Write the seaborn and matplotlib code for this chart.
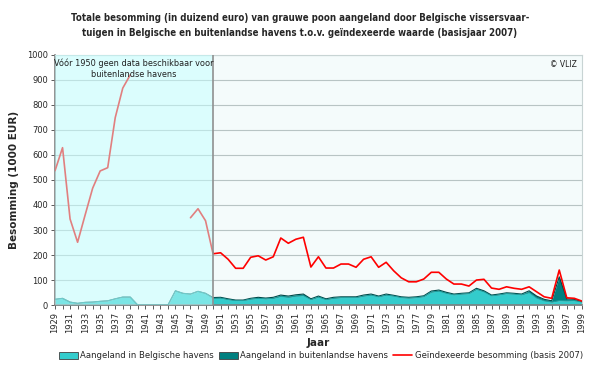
import numpy as np
import pandas as pd
import matplotlib
matplotlib.use("Agg")
import matplotlib.pyplot as plt
from matplotlib.patches import Patch, Rectangle
from matplotlib.lines import Line2D
from matplotlib.ticker import MultipleLocator
import seaborn as sns

sns.set_theme(style="white")
plt.rcParams['font.family'] = ['DejaVu Sans']

years = list(range(1929, 2000))

# landed in Belgian harbours (1000 EUR)
belgian = [23, 27, 12, 7, 11, 12, 15, 17, 25, 32, 32,
           0, 0, 0, 0, 0, 57, 47, 44, 55, 47,
           27, 28, 22, 18, 18, 24, 27, 25, 27, 35, 31, 36, 38, 22, 32, 22, 27, 30, 30, 30,
           36, 40, 33, 40, 36, 30, 28, 30, 34, 52, 56, 47, 41, 44, 46, 63, 53, 37, 41, 46,
           44, 41, 50, 28, 17, 12, 18, 17, 18, 12]
# landed in foreign harbours (no data before 1950)
foreign = [0] * 21 + [3, 3, 3, 2, 2, 3, 4, 3, 4, 5, 5, 5, 6, 3, 4, 3, 4, 3, 3, 3,
                      4, 4, 3, 4, 3, 3, 3, 3, 3, 4, 4, 4, 3, 3, 3, 4, 4, 3, 3, 3,
                      3, 3, 7, 8, 6, 5, 95, 8, 5, 2]
# indexed total value (base 2007)
indexed = [537, 629, 344, 251, 360, 467, 536, 549, 749, 867, 920,
           np.nan, np.nan, np.nan, np.nan, np.nan, np.nan, np.nan, 349, 385, 337,
           205, 209, 183, 147, 147, 191, 197, 180, 193, 268, 247, 263, 271, 152, 193, 148,
           148, 164, 164, 151, 183, 193, 151, 171, 137, 109, 93, 93, 104, 131, 131, 104,
           84, 84, 76, 100, 103, 68, 63, 73, 67, 63, 73, 53, 33, 27, 140, 29, 27, 16]

df = pd.DataFrame({"jaar": years, "belg": belgian, "buit": foreign, "index": indexed})
df["totaal"] = df["belg"] + df["buit"]
df["seg"] = df["index"].isna().cumsum()
line_df = df.dropna(subset=["index"])

fig = plt.figure(figsize=(6, 3.68), dpi=100)
ax = fig.add_axes([0.0917, 0.171, 0.878, 0.680])
ax.set_facecolor("#f4fbfb")

c_belg = "#33cccc"
c_buit = "#008080"

ax.fill_between(df["jaar"], 0, df["belg"], color=c_belg, lw=0, zorder=2)
ax.fill_between(df["jaar"], df["belg"], df["totaal"], color=c_buit, lw=0, zorder=2)
ax.plot(df["jaar"], df["totaal"], color="#004848", lw=0.8, zorder=3)
ax.plot(df["jaar"], df["belg"], color="#20a0a0", lw=0.6, zorder=3)

sns.lineplot(data=line_df, x="jaar", y="index", units="seg", estimator=None,
             color="#ff0000", lw=1.2, ax=ax, zorder=4, legend=False)

# pre-1950 shaded region
ax.add_patch(Rectangle((1929, 0), 21, 1000, facecolor="#c4ffff", alpha=0.5,
                       edgecolor="none", zorder=5))
ax.plot([1950, 1950], [0, 1000], color="#909090", lw=1.2, zorder=6)
ax.text(1939.5, 985, "Vóór 1950 geen data beschikbaar voor\nbuitenlandse havens",
        ha="center", va="top", fontsize=5.9, color="#202020", zorder=7,
        linespacing=1.3)
ax.text(1998.3, 980, "© VLIZ", ha="right", va="top", fontsize=5.5,
        color="#202020", zorder=7)

ax.set_xlim(1929, 1999)
ax.set_ylim(0, 1000)
ax.yaxis.set_major_locator(MultipleLocator(100))
ax.grid(axis="y", color="#b8c4c4", lw=0.8, zorder=1)
ax.set_axisbelow(True)

ax.set_xticks(range(1929, 2000, 2))
ax.set_xticks(range(1929, 2000), minor=True)
ax.tick_params(axis="x", which="both", bottom=True, length=3, width=0.6,
               color="#404040", labelsize=6, rotation=90, pad=2)
ax.tick_params(axis="y", left=True, length=3, width=0.6, color="#404040",
               labelsize=6, pad=2)

for side in ["top", "right"]:
    ax.spines[side].set_color("#c8d4d4")
    ax.spines[side].set_linewidth(0.8)
for side in ["left", "bottom"]:
    ax.spines[side].set_color("#808080")
    ax.spines[side].set_linewidth(1.2)

ax.set_xlabel("Jaar", fontsize=7.5, fontweight="bold")
ax.xaxis.set_label_coords(0.5, -0.13)
ax.set_ylabel("Besomming (1000 EUR)", fontsize=7.5, fontweight="bold", labelpad=6)

fig.suptitle("Totale besomming (in duizend euro) van grauwe poon aangeland door Belgische vissersvaar-\n"
             "tuigen in Belgische en buitenlandse havens t.o.v. geïndexeerde waarde (basisjaar 2007)",
             x=0.5, y=0.965, fontsize=6.9, fontweight="bold", linespacing=1.6,
             family=["Liberation Sans Narrow", "DejaVu Sans"], fontstretch="condensed")

handles = [Patch(facecolor=c_belg, edgecolor="#404040", lw=0.6),
           Patch(facecolor=c_buit, edgecolor="#404040", lw=0.6),
           Line2D([0], [0], color="#ff0000", lw=1.2)]
labels = ["Aangeland in Belgische havens", "Aangeland in buitenlandse havens",
          "Geïndexeerde besomming (basis 2007)"]
fig.legend(handles, labels, loc="lower center", bbox_to_anchor=(0.535, 0.0),
           ncol=3, frameon=False, fontsize=6.1, handlelength=2.2, handleheight=0.9,
           columnspacing=0.6, handletextpad=0.3)

fig.savefig("out.png", dpi=100)
